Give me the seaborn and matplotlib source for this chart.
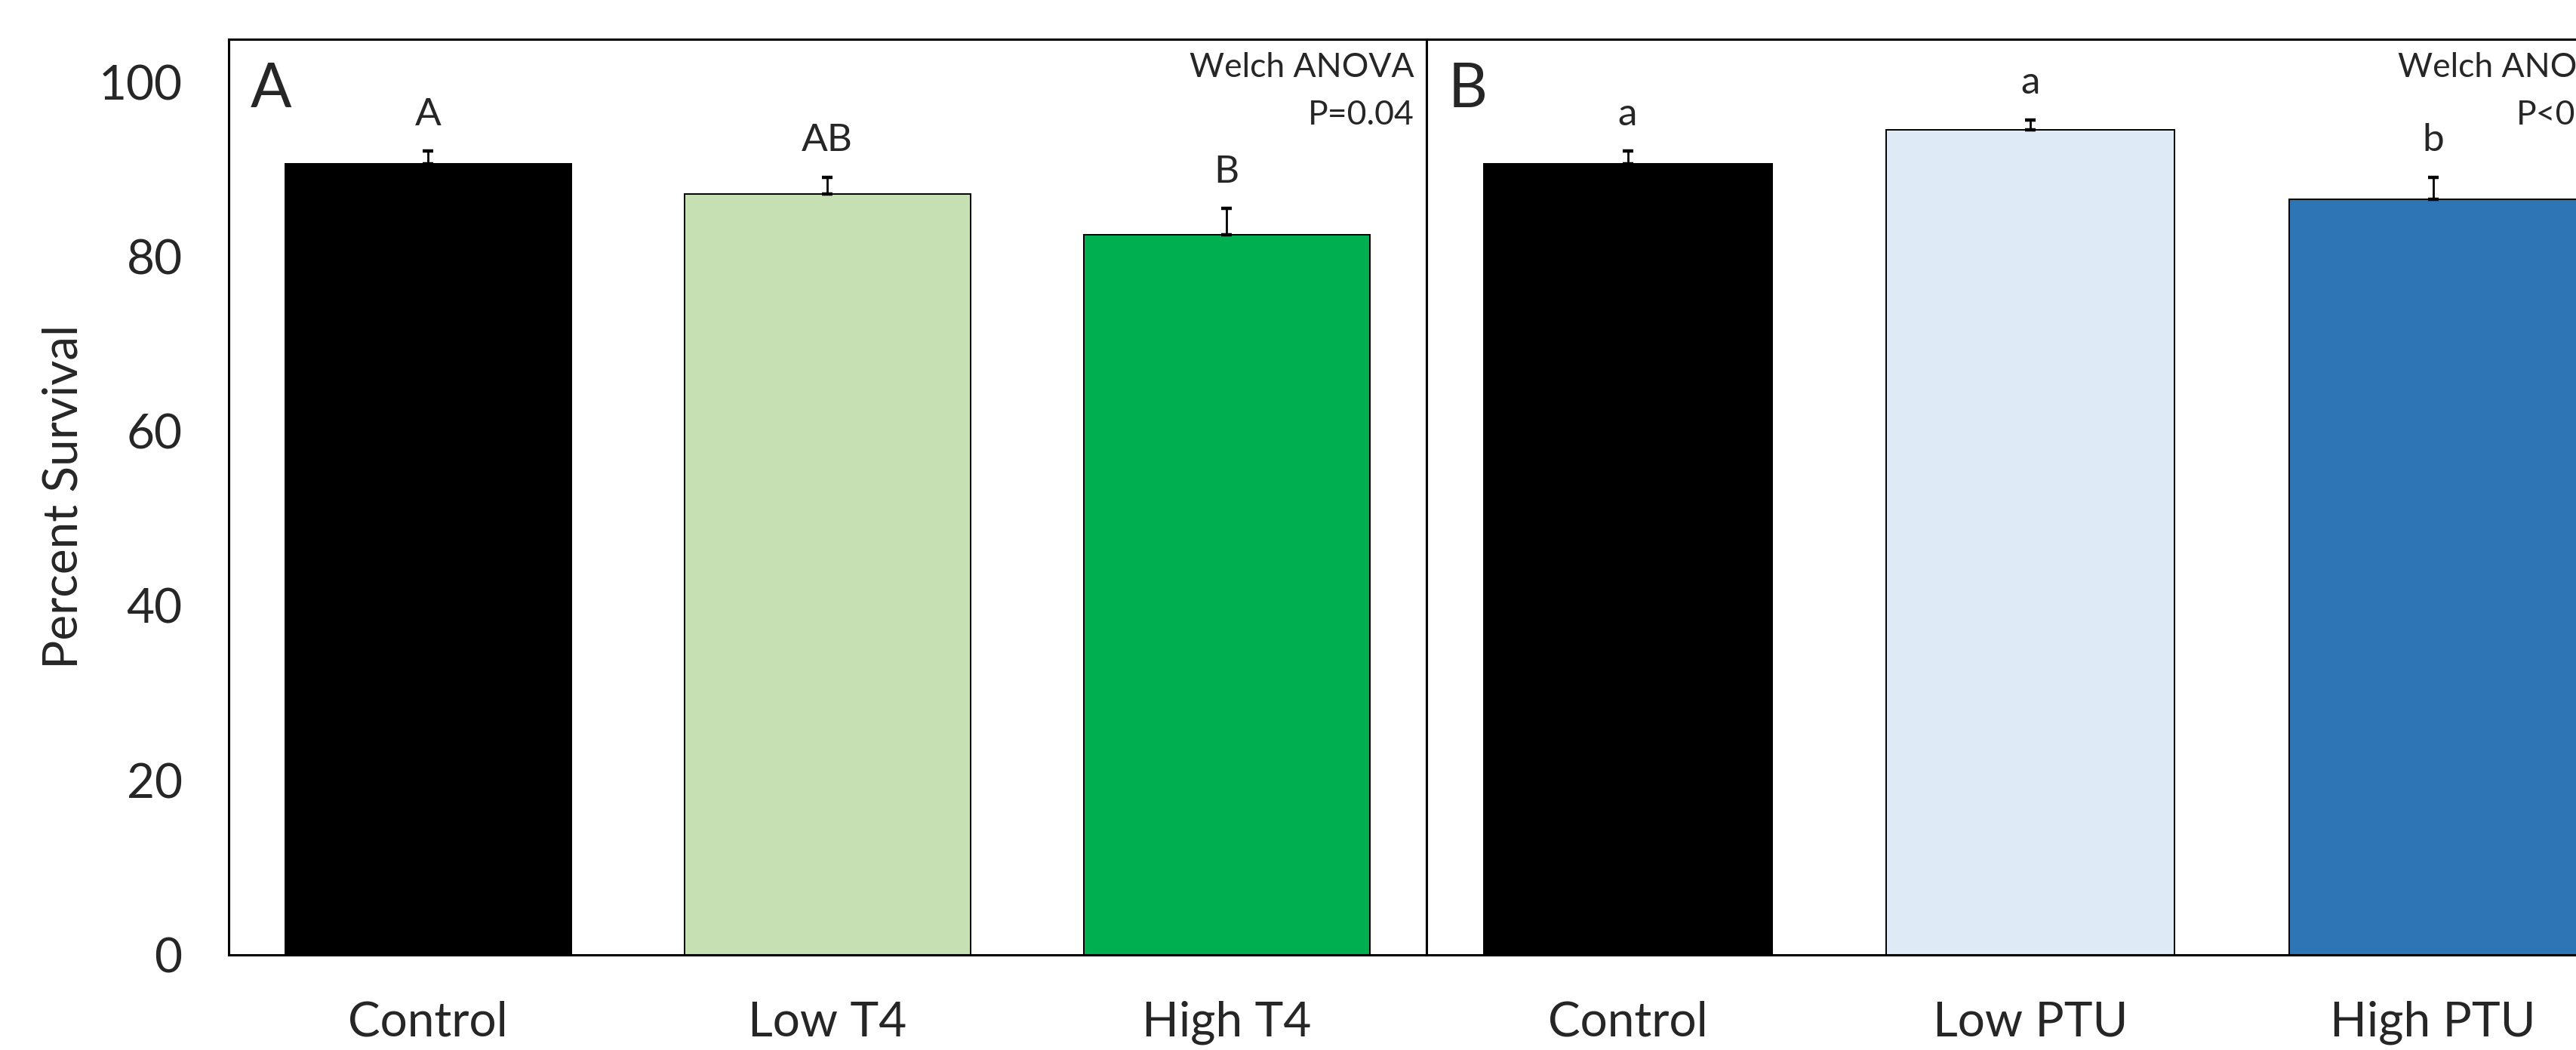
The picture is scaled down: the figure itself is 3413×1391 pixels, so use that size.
import matplotlib
matplotlib.use("Agg")
import matplotlib.pyplot as plt
import seaborn as sns
import pandas as pd

# ---- data ----
groups_a = ["Control", "Low T4", "High T4"]
means_a = [90.6, 87.2, 82.5]
sem_a = [1.5, 1.9, 3.0]
letters_a = ["A", "AB", "B"]
colors_a = ["#000000", "#C6E0B4", "#00B050"]
stat_a = ["Welch ANOVA", "P=0.04"]

groups_b = ["Control", "Low PTU", "High PTU"]
means_b = [90.6, 94.5, 86.6]
sem_b = [1.5, 1.2, 2.5]
letters_b = ["a", "a", "b"]
colors_b = ["#000000", "#DEEBF7", "#2E75B6"]
stat_b = ["Welch ANOVA", "P<0.01"]

y_ticks = [0, 20, 40, 60, 80, 100]
y_label = "Percent Survival"

sns.set_theme(style="white")
plt.rcParams["font.family"] = ["Lato", "DejaVu Sans"]

fig = plt.figure(figsize=(3413 / 200, 1391 / 200), dpi=200)
axA = fig.add_axes([0.0887, 0.0908, 0.4650, 0.8717])
axB = fig.add_axes([0.5537, 0.0908, 0.4690, 0.8717])


def panel(ax, groups, means, sems, letters, colors, stat, label, show_y):
    df = pd.DataFrame({"group": groups, "mean": means})
    sns.barplot(data=df, x="group", y="mean", hue="group", palette=colors,
                order=groups, hue_order=groups, legend=False, width=0.716,
                edgecolor="black", linewidth=0.7, saturation=1, ax=ax,
                errorbar=None)
    xs = list(range(len(groups)))
    ax.errorbar(xs, means, yerr=[[0] * len(sems), sems], fmt="none",
                ecolor="black", elinewidth=1.0, capsize=2.5, capthick=1.6)
    for x, m, s, t in zip(xs, means, sems, letters):
        ax.text(x, m + s + 4.2, t, ha="center", va="center", fontsize=18.5)
    ax.set_ylim(0, 104.9)
    ax.set_xlim(-0.5, 2.5)
    ax.set_xlabel("")
    ax.set_yticks(y_ticks)
    if show_y:
        ax.set_ylabel(y_label, fontsize=23, labelpad=6)
        ax.tick_params(axis="y", labelsize=23, pad=22, length=0)
    else:
        ax.set_ylabel("")
        ax.tick_params(axis="y", labelleft=False, length=0)
    ax.tick_params(axis="x", labelsize=23, pad=22, length=0)
    for sp in ax.spines.values():
        sp.set_visible(True)
        sp.set_color("black")
        sp.set_linewidth(1.1)
    ax.text(0.018, 0.975, label, transform=ax.transAxes, ha="left", va="top",
            fontsize=29)
    ax.text(0.99, 0.9695, stat[0], transform=ax.transAxes, ha="right",
            va="center", fontsize=16)
    ax.text(0.99, 0.9174, stat[1], transform=ax.transAxes, ha="right",
            va="center", fontsize=16)


panel(axA, groups_a, means_a, sem_a, letters_a, colors_a, stat_a, "A", True)
panel(axB, groups_b, means_b, sem_b, letters_b, colors_b, stat_b, "B", False)

fig.savefig("out.png", dpi=200, facecolor="white")
